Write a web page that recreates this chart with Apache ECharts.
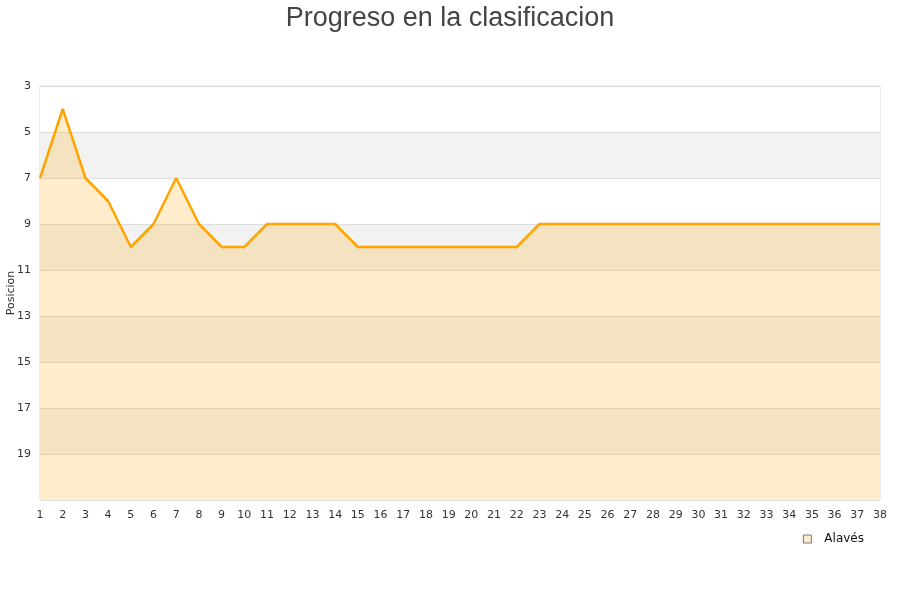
<!DOCTYPE html>
<html>
<head>
<meta charset="utf-8">
<script src="https://cdn.jsdelivr.net/npm/echarts@6/dist/echarts.min.js"></script>
<style>
  html, body { margin: 0; padding: 0; background: #fff; }
  #chart { width: 900px; height: 600px; }
</style>
</head>
<body>
<div id="chart"></div>
<script>
// Jornadas 1..38 and the league position after each one
const jornadas = Array.from({ length: 38 }, (_, i) => String(i + 1));
const posiciones = [
  7, 4, 7, 8, 10, 9, 7, 9, 10, 10,
  9, 9, 9, 9, 10, 10, 10, 10, 10, 10,
  10, 10, 9, 9, 9, 9, 9, 9, 9, 9,
  9, 9, 9, 9, 9, 9, 9, 9
];
const equipo = 'Alavés';
const posMin = 3;
const posMax = 21;

const chart = echarts.init(document.getElementById('chart'));
chart.setOption({
  animation: false,
  title: {
    text: 'Progreso en la clasificacion',
    left: 'center',
    top: 0,
    textStyle: { fontFamily: 'Liberation Sans', fontSize: 27, fontWeight: 'normal', color: '#444' }
  },
  legend: {
    data: [equipo],
    right: 31,
    top: 528,
    icon: 'rect',
    itemWidth: 8,
    itemHeight: 8,
    itemGap: 6,
    itemStyle: { color: '#ffedcc', borderColor: '#777', borderWidth: 1 },
    textStyle: { fontFamily: 'DejaVu Sans', fontSize: 12, color: '#111', padding: [0, 0, 0, 8] }
  },
  grid: {
    left: 40, right: 20, top: 86, bottom: 100,
    containLabel: false,
    outerBoundsMode: 'none',
    show: true, borderColor: '#dddddd', borderWidth: 1, backgroundColor: 'transparent'
  },
  xAxis: {
    type: 'category',
    data: jornadas,
    boundaryGap: false,
    axisLine: { show: false },
    axisTick: { show: false },
    axisLabel: { interval: 0, fontFamily: 'DejaVu Sans', fontSize: 11, color: '#333', margin: 10 },
    splitLine: { show: false }
  },
  yAxis: {
    type: 'value',
    inverse: true,
    min: posMin,
    max: posMax,
    interval: 1,
    name: 'Posicion',
    nameLocation: 'middle',
    nameGap: 23,
    nameMoveOverlap: false,
    nameRotate: 90,
    nameTextStyle: { fontFamily: 'DejaVu Sans', fontSize: 11, color: '#333' },
    axisLine: { show: false },
    axisTick: { show: false },
    axisLabel: {
      fontFamily: 'DejaVu Sans', fontSize: 11, color: '#333', margin: 9,
      formatter: v => (v % 2 === 1 && v < posMax) ? String(v) : ''
    },
    splitLine: { show: true, lineStyle: { color: ['#dddddd', 'rgba(0,0,0,0)'], width: 1 } },
    splitArea: { show: true, areaStyle: { color: ['#ffffff', '#ffffff', '#f2f2f2', '#f2f2f2'] } }
  },
  series: [{
    name: equipo,
    type: 'line',
    data: posiciones,
    symbol: 'none',
    lineStyle: { color: '#ffa500', width: 2.5 },
    itemStyle: { color: '#ffedcc' },
    areaStyle: { color: 'rgba(255,165,0,0.2)', opacity: 1, origin: 'end' }
  }]
});
</script>
</body>
</html>
